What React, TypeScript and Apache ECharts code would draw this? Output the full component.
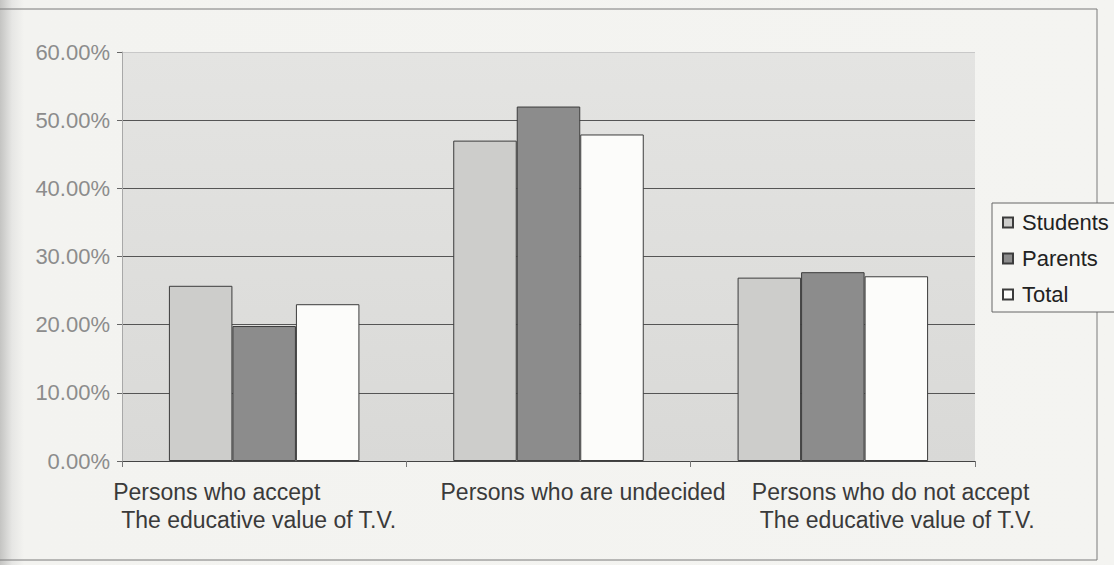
import React, { useEffect, useRef } from "react";
import * as echarts from "echarts";

const categoriesLine1 = ["Persons who accept", "Persons who are undecided", "Persons who do not accept"];
const categoriesLine2 = [" The educative value of T.V.", "", " The educative value of T.V."];
const seriesNames = ["Students", "Parents", "Total"];
const students = [25.7, 47.0, 26.9];
const parents = [19.8, 52.0, 27.7];
const totals = [23.0, 47.9, 27.1];
const yTicks = [0, 10, 20, 30, 40, 50, 60];

const catNames = categoriesLine1.map((l, i) => l + (categoriesLine2[i] ? "\n" + categoriesLine2[i] : ""));

export default function App() {
  const ref = useRef<HTMLDivElement>(null);
  useEffect(() => {
    document.body.style.margin = "0";
    if (!ref.current) return;
    const chart = echarts.init(ref.current, null, { renderer: "svg" });
    const font = "Arial, 'Liberation Sans', sans-serif";
    const base = { align: "left", fontSize: 23, color: "#3a3a3a", fontFamily: font, lineHeight: 28 };
    const rich: any = {
      a0: { ...base, width: 300 },
      b0: { ...base, width: 300, padding: [0, 0, 0, 2] },
      a1: { ...base, width: 216 },
      b1: { ...base, width: 216 },
      a2: { ...base, width: 160 },
      b2: { ...base, width: 160, padding: [0, 0, 0, 2] },
    };
    const barStyle = (color: string) => ({ color, borderColor: "#3c3c3c", borderWidth: 1 });
    chart.setOption({
      animation: false,
      backgroundColor: "transparent",
      textStyle: { fontFamily: font },
      graphic: [
        {
          type: "rect",
          z: -10,
          silent: true,
          shape: { x: -5, y: 9, width: 1102, height: 551 },
          style: { fill: "none", stroke: "#7a7a7a", lineWidth: 1 },
        },
      ],
      grid: {
        left: 122,
        right: 139,
        top: 52,
        bottom: 104,
        show: true,
        borderWidth: 0,
        backgroundColor: {
          type: "linear",
          x: 0,
          y: 0,
          x2: 0,
          y2: 1,
          colorStops: [
            { offset: 0, color: "#e4e4e2" },
            { offset: 1, color: "#d9d9d7" },
          ],
        },
      },
      legend: {
        orient: "vertical",
        left: 992,
        top: 203,
        padding: [7, 20, 5, 10],
        itemWidth: 10,
        itemHeight: 10,
        itemGap: 11,
        icon: "rect",
        borderColor: "#666",
        borderWidth: 1,
        backgroundColor: "#f6f6f3",
        textStyle: { fontSize: 22, color: "#222", lineHeight: 25, fontFamily: font, padding: [0, 0, 0, 4] },
        data: seriesNames,
      },
      xAxis: {
        type: "category",
        data: catNames,
        axisLine: { show: true, lineStyle: { color: "#444", width: 1 } },
        axisTick: { show: true, length: 6, lineStyle: { color: "#777" } },
        axisLabel: {
          interval: 0,
          margin: 17,
          formatter: (_v: string, i: number) =>
            categoriesLine2[i]
              ? `{a${i}|${categoriesLine1[i]}}\n{b${i}|${categoriesLine2[i]}}`
              : `{a${i}|${categoriesLine1[i]}}`,
          rich,
        },
        splitLine: { show: false },
      },
      yAxis: {
        type: "value",
        min: yTicks[0],
        max: yTicks[yTicks.length - 1],
        interval: 10,
        axisLine: { show: true, lineStyle: { color: "#a8a8a8" } },
        axisTick: { show: true, length: 5, lineStyle: { color: "#666" } },
        axisLabel: {
          margin: 12,
          fontSize: 22,
          color: "#8c8c8c",
          fontFamily: font,
          formatter: (v: number) => v.toFixed(2) + "%",
        },
        splitLine: {
          show: true,
          lineStyle: { color: ["#555", "#555", "#555", "#555", "#555", "#555", "#c8c8c8"], width: 1 },
        },
      },
      series: [
        { name: seriesNames[0], type: "bar", data: students, barGap: "0%", barCategoryGap: "33%", itemStyle: barStyle("#cdcdcb") },
        { name: seriesNames[1], type: "bar", data: parents, barGap: "0%", barCategoryGap: "33%", itemStyle: barStyle("#8c8c8c") },
        { name: seriesNames[2], type: "bar", data: totals, barGap: "0%", barCategoryGap: "33%", itemStyle: barStyle("#fcfcfa") },
      ],
    });
    return () => chart.dispose();
  }, []);
  return (
    <div
      style={{
        width: 1114,
        height: 565,
        background: "linear-gradient(to right, #c4c4c2 0px, #e6e6e4 12px, #f3f3f0 24px, #f4f4f1 100%)",
      }}
    >
      <div ref={ref} style={{ width: 1114, height: 565 }} />
    </div>
  );
}
